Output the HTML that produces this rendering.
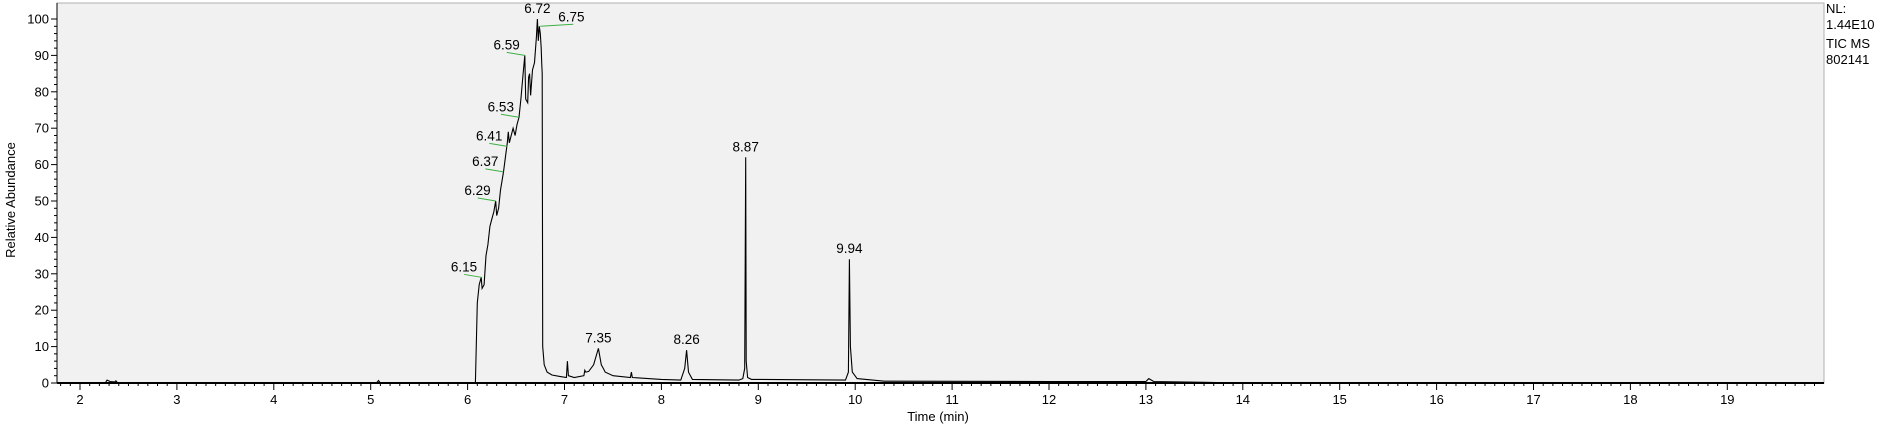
<!DOCTYPE html>
<html><head><meta charset="utf-8"><style>
html,body{margin:0;padding:0;background:#fff;}
svg{display:block;font-family:"Liberation Sans",Arial,sans-serif;}
</style></head><body>
<svg id="chart" width="1878" height="425" viewBox="0 0 1878 425" xmlns="http://www.w3.org/2000/svg">
<rect x="57" y="3" width="1767" height="380" fill="#f1f1f1" stroke="#b0b0b0" stroke-width="1"/>
<g id="axes"></g>
<g id="trace"></g>
<g id="labels"></g>
<text transform="translate(15,200) rotate(-90)" text-anchor="middle" font-size="13" fill="#000">Relative Abundance</text>
<text x="938" y="421" text-anchor="middle" font-size="13" fill="#000">Time (min)</text>
<g font-size="13" fill="#000">
<text x="1826" y="13">NL:</text>
<text x="1826" y="29">1.44E10</text>
<text x="1826" y="48">TIC  MS</text>
<text x="1826" y="64">802141</text>
</g>
</svg>
<script>
const traceTimes = [1.8,2.26,2.28,2.31,2.36,2.37,2.39,5.06,5.08,5.10,6.08,6.10,6.12,6.14,6.15,6.17,6.19,6.21,6.23,6.25,6.27,6.29,6.30,6.32,6.34,6.37,6.39,6.41,6.42,6.43,6.45,6.47,6.49,6.51,6.53,6.55,6.57,6.59,6.60,6.62,6.63,6.64,6.65,6.67,6.69,6.71,6.72,6.73,6.74,6.75,6.76,6.765,6.77,6.775,6.79,6.82,6.87,6.95,7.02,7.03,7.04,7.1,7.2,7.21,7.22,7.25,7.3,7.35,7.38,7.40,7.42,7.5,7.68,7.69,7.70,8.0,8.2,8.24,8.26,8.28,8.32,8.80,8.84,8.86,8.87,8.875,8.89,8.93,9.90,9.93,9.94,9.95,9.97,10.02,10.3,12.0,13.0,13.03,13.08,13.6,14.0,19.9];
const traceValues = [0,0,0.8,0.4,0.3,0.6,0,0,0.7,0,0,22,27,29,26,27,35,38,43,45,47,50,46,48,53,58,62,66,69,66,68,70,68,71,73,78,84,90,78,77,84,85,79,86,88,95,100,94,98,96,92,88,85,10,5,3,2.2,1.8,1.5,6,2,1.5,2,3.5,3,3.2,5,9.5,5,4,3,2,1.5,3,1.5,1,0.8,4,9,3,1,0.8,1.2,4,62,6,1.5,1,0.8,3,34,10,3,1.2,0.5,0.4,0.4,1.2,0.4,0.2,0,0];
const labelTimes = [6.15,6.29,6.37,6.41,6.53,6.59,6.72,6.75,7.35,8.26,8.87,9.94];
const labelValues = [29,50,58,65,73,90,100,98,9.5,9,62,34];
const labelTexts = ["6.15","6.29","6.37","6.41","6.53","6.59","6.72","6.75","7.35","8.26","8.87","9.94"];
const labelKinds = ["left","left","left","left","left","left","top","right","top","top","top","top"];
const yTicks = [0,10,20,30,40,50,60,70,80,90,100];
const xTicks = [2,3,4,5,6,7,8,9,10,11,12,13,14,15,16,17,18,19];

const NS="http://www.w3.org/2000/svg";
const X0=80, PX=96.9, Y0=383, PY=3.64, LEFT=57, RIGHT=1824;
function xs(t){return X0+PX*(t-2);}
function ys(v){return Y0-PY*v;}
function mk(tag,attrs,parent){const e=document.createElementNS(NS,tag);for(const k in attrs)e.setAttribute(k,attrs[k]);parent.appendChild(e);return e;}
const axes=document.getElementById('axes');
let ya=mk('line',{x1:LEFT,y1:3,x2:LEFT,y2:Y0,stroke:'#000','stroke-width':1},axes);


for(let v=0;v<=100;v+=2){
  const major=v%10===0;
  const tk=mk('line',{x1:LEFT-(major?6:3),y1:ys(v),x2:LEFT,y2:ys(v),stroke:'#000','stroke-width':1},axes);
  
  
}
yTicks.forEach(v=>{
  const t=mk('text',{x:LEFT-8,y:ys(v)+4.5,'text-anchor':'end','font-size':13,fill:'#000'},axes);
  t.textContent=v;
  
  
});
let xa=mk('line',{x1:LEFT,y1:Y0,x2:RIGHT,y2:Y0,stroke:'#000','stroke-width':2},axes);


for(let i=18;i<=199;i++){
  const t=i/10;const x=xs(t);
  if(x<LEFT||x>RIGHT)continue;
  const major=i%10===0;
  const tk=mk('line',{x1:x,y1:Y0,x2:x,y2:Y0+(major?7:3),stroke:'#000','stroke-width':1},axes);
  
  
}
xTicks.forEach(v=>{
  const t=mk('text',{x:xs(v),y:Y0+21,'text-anchor':'middle','font-size':13,fill:'#000'},axes);
  t.textContent=v;
  
  
});
const trace=document.getElementById('trace');
let d='';
traceTimes.forEach((t,i)=>{d+=(i?'L':'M')+xs(t).toFixed(1)+' '+ys(traceValues[i]).toFixed(1);});
const p=mk('path',{d:d,fill:'none',stroke:'#000','stroke-width':1.1},trace);


const lab=document.getElementById('labels');
labelTimes.forEach((t,i)=>{
  const x=xs(t),y=ys(labelValues[i]),k=labelKinds[i];
  let tx,ty,anchor;
  if(k==='left'){
    const g=mk('line',{x1:x-18,y1:y-3,x2:x,y2:y,stroke:'#3cb043','stroke-width':1},lab);
    
    
    tx=x-5;ty=y-6;anchor='end';
  }else if(k==='right'){
    const g=mk('line',{x1:x,y1:y,x2:x+33,y2:y-2,stroke:'#3cb043','stroke-width':1},lab);
    
    
    tx=x+18;ty=y-5;anchor='start';
  }else{
    tx=x;ty=y-6;anchor='middle';
  }
  const e=mk('text',{x:tx,y:ty,'text-anchor':anchor,'font-size':13.5,fill:'#000'},lab);
  e.textContent=labelTexts[i];
  
  
});
</script>
</body></html>
